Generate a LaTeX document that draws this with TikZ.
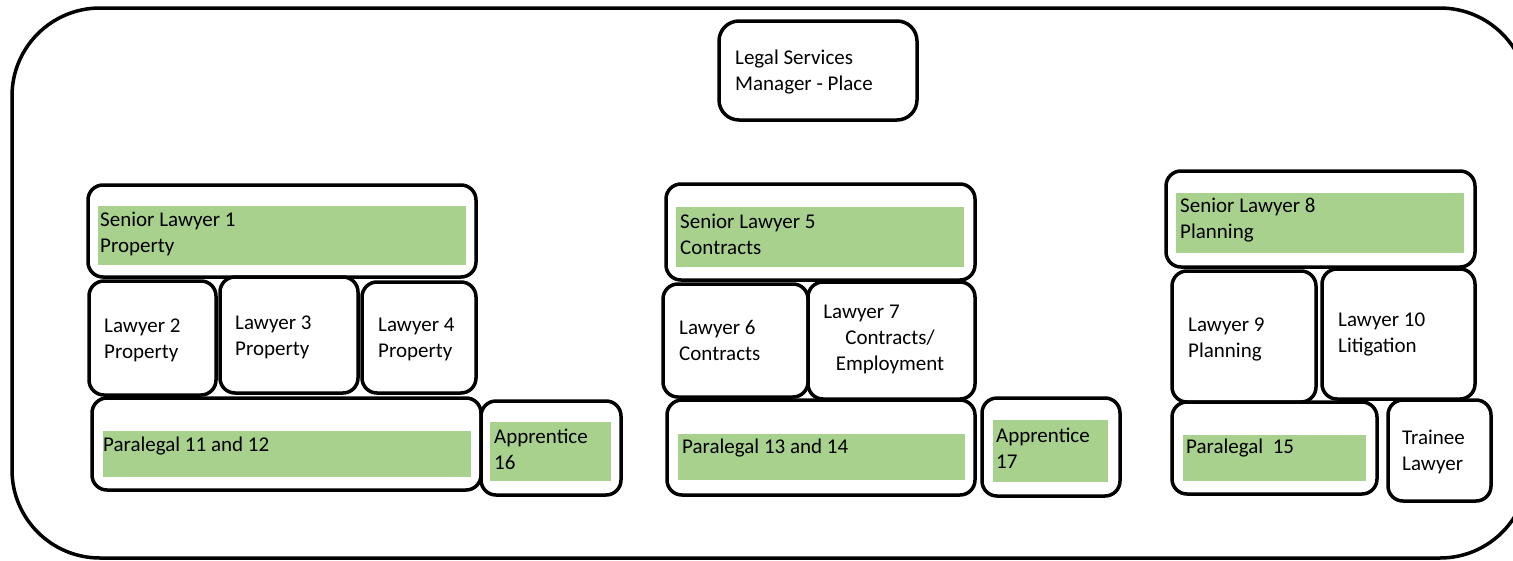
\documentclass[tikz,border=0pt]{standalone}
\usepackage{fontspec}
\setmainfont{Carlito}
\usetikzlibrary{fit}
\definecolor{bargreen}{HTML}{A9D18E}
\begin{document}
\begin{tikzpicture}[x=1pt,y=-1pt,
	box/.style={draw, line width=3.5pt, rounded corners=15pt, inner sep=0pt},
	bar/.style={fill=bargreen, inner sep=0pt},
	txt/.style={font=\fontsize{21}{26}\selectfont, align=left, inner sep=0pt, anchor=west}]
	\useasboundingbox (0,0) rectangle (1513,560);
	\clip (0,0) rectangle (1513,560);
	% outer frame
	\node[box, rounded corners=88pt, fit={(12,8) (1528,558)}] (dept) {};

	% manager
	\node[box, rounded corners=20pt, fit={(719,21) (917,120)}] (mgr) {};
	\node[txt] (mgrtxt) at (735,72.5) {Legal Services\\Manager - Place};

	% property team
	\node[box, fit={(88,185) (476,277)}] (sen1) {};
	\node[bar, fit={(98,206) (466,265)}] (sen1bar) {};
	\node[txt] (sen1txt) at (100,234) {Senior Lawyer 1\\Property};
	\node[box, fit={(89,281) (216,395)}] (law2) {};
	\node[txt] (law2txt) at (104,340) {Lawyer 2\\Property};
	\node[box, fit={(220,277) (358,393)}] (law3) {};
	\node[txt] (law3txt) at (235,337) {Lawyer 3\\Property};
	\node[box, fit={(362,282) (476,393)}] (law4) {};
	\node[txt] (law4txt) at (378,339) {Lawyer 4\\Property};
	\node[box, fit={(92,398) (481,490)}] (para11) {};
	\node[bar, fit={(103,431) (471,477)}] (para11bar) {};
	\node[txt] (para11txt) at (103,446) {Paralegal 11 and 12};
	\node[box, fit={(481,401) (621,495)}] (app16) {};
	\node[bar, fit={(490,422) (611,481)}] (app16bar) {};
	\node[txt] (app16txt) at (494,449) {Apprentice\\16};

	% contracts team
	\node[box, fit={(666,184) (975,280)}] (sen5) {};
	\node[bar, fit={(676,207) (964,267)}] (sen5bar) {};
	\node[txt] (sen5txt) at (680,234) {Senior Lawyer 5\\Contracts};
	\node[box, fit={(663,284) (808,397)}] (law6) {};
	\node[txt] (law6txt) at (679,340) {Lawyer 6\\Contracts};
	\node[box, fit={(808,282) (975,399)}] (law7) {};
	\node[txt, align=center, anchor=center] (law7txt) at (890,339) {Lawyer 7\hspace*{57pt}\\Contracts/\\Employment};
	\node[box, fit={(667,400) (975,495)}] (para13) {};
	\node[bar, fit={(678,434) (965,480)}] (para13bar) {};
	\node[txt] (para13txt) at (682,448) {Paralegal 13 and 14};
	\node[box, fit={(982,398) (1120,496)}] (app17) {};
	\node[bar, fit={(993,420) (1108,482)}] (app17bar) {};
	\node[txt] (app17txt) at (996,448) {Apprentice\\17};

	% planning team
	\node[box, fit={(1166,171) (1475,267)}] (sen8) {};
	\node[bar, fit={(1176,193) (1464,253)}] (sen8bar) {};
	\node[txt] (sen8txt) at (1180,220.5) {Senior Lawyer 8\\Planning};
	\node[box, fit={(1172,271) (1316,402)}] (law9) {};
	\node[txt] (law9txt) at (1188,339) {Lawyer 9\\Planning};
	\node[box, fit={(1322,269) (1475,399)}] (law10) {};
	\node[txt] (law10txt) at (1338,334) {Lawyer 10\\Litigation};
	\node[box, fit={(1172,402) (1377,494)}] (para15) {};
	\node[bar, fit={(1183,435) (1366,481)}] (para15bar) {};
	\node[txt] (para15txt) at (1186,448) {Paralegal\ \ 15};
	\node[box, fit={(1388,400) (1491,501)}] (trainee) {};
	\node[txt] (traineetxt) at (1402,452) {Trainee\\Lawyer};
\end{tikzpicture}
\end{document}
